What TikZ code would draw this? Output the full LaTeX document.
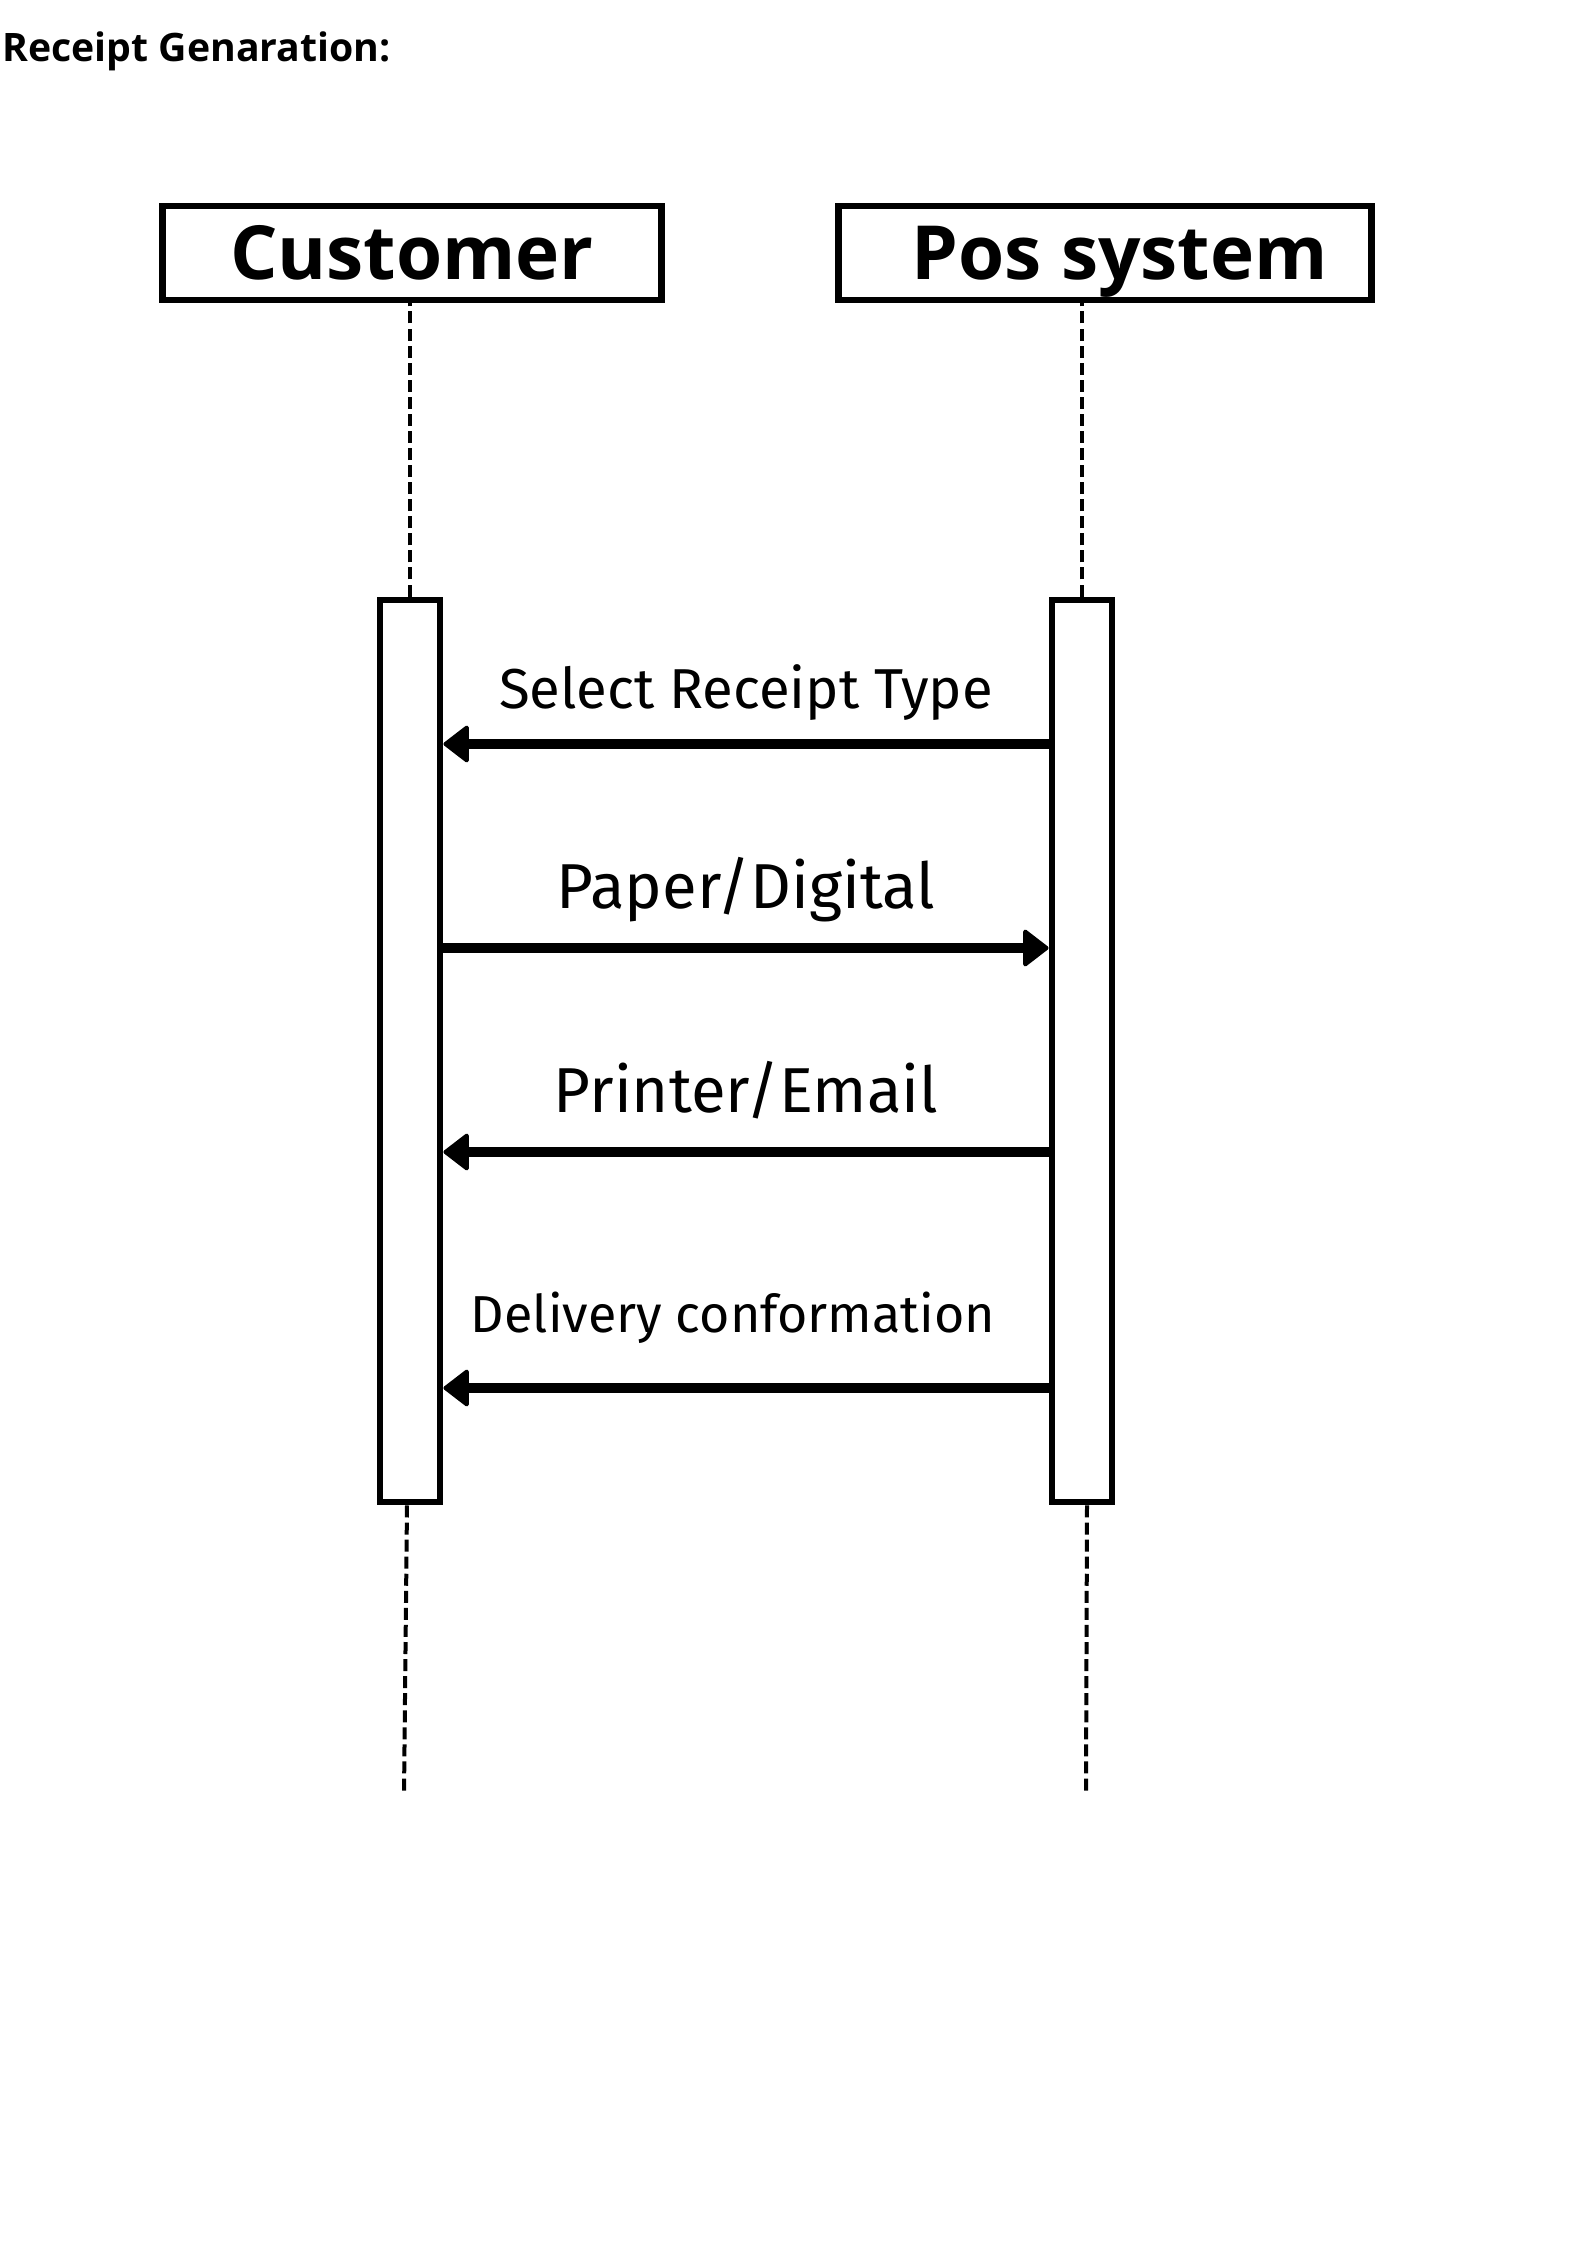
\documentclass[tikz,border=0pt]{standalone}
\usepackage{fontspec}
\setmainfont{Fira Sans}
\newfontfamily\headfont{Open Sans}
\usetikzlibrary{arrows.meta}

\tikzset{
  actor/.style={draw, line width=2.6pt, minimum height=35.25pt, inner sep=0pt,
    text height=20pt, text depth=0pt, font=\headfont\bfseries\fontsize{28}{30}\selectfont},
  activation/.style={draw, fill=white, line width=2.6pt, minimum width=22.5pt,
    minimum height=338.25pt, inner sep=0pt},
  lifeline/.style={line width=1.5pt, dash pattern=on 4.5pt off 1.9pt},
  msg/.style={line width=3.4pt, -{Triangle[length=10pt, width=15pt, round, line width=1.5pt]}},
  msglabel/.style={anchor=base, inner sep=0pt},
  small/.style={font=\fontsize{19.5}{22}\selectfont},
  big/.style={font=\fontsize{23.8}{28}\selectfont}
}

\begin{document}
\begin{tikzpicture}[x=0.375pt, y=-0.375pt]
	\useasboundingbox (0,0) rectangle (1587,2245);

	% Titulo
	\node[anchor=base west, inner sep=0pt, font=\headfont\bfseries\fontsize{14.7}{18}\selectfont]
		(title) at (2,62) {Receipt Genaration:};

	% Actores
	\node[actor, minimum width=187pt] (cust) at (412,253) {Customer};
	\node[actor, minimum width=200pt] (pos) at (1105,253) {\hspace*{11pt}Pos system};

	% Barras de activacion
	\node[activation] (custact) at (410,1051) {};
	\node[activation] (posact) at (1082,1051) {};

	% Lineas de vida
	\draw[lifeline] (custact.north) -- (custact.north |- cust.south);
	\draw[lifeline] (posact.north) -- (posact.north |- pos.south);
	\coordinate (custend) at (404,1795);
	\coordinate (posend) at (1086,1795);
	\draw[lifeline] (custact.south) ++(-3,0) -- (custend);
	\draw[lifeline] (posact.south) ++(5,0) -- (posend);

	% Mensajes
	\draw[msg] (posact.west |- 0,744) -- node[msglabel, font=\fontsize{21.1}{24}\selectfont, yshift=13.5pt] (m1) {Select Receipt Type} (custact.east |- 0,744);
	\draw[msg] (custact.east |- 0,948) -- node[msglabel, big, yshift=15pt] (m2) {Paper/Digital} (posact.west |- 0,948);
	\draw[msg] (posact.west |- 0,1152) -- node[msglabel, big, yshift=15pt] (m3) {Printer/Email} (custact.east |- 0,1152);
	\draw[msg] (posact.west |- 0,1388) -- node[msglabel, small, yshift=21pt, xshift=-4.9pt] (m4) {Delivery conformation} (custact.east |- 0,1388);

\end{tikzpicture}
\end{document}
